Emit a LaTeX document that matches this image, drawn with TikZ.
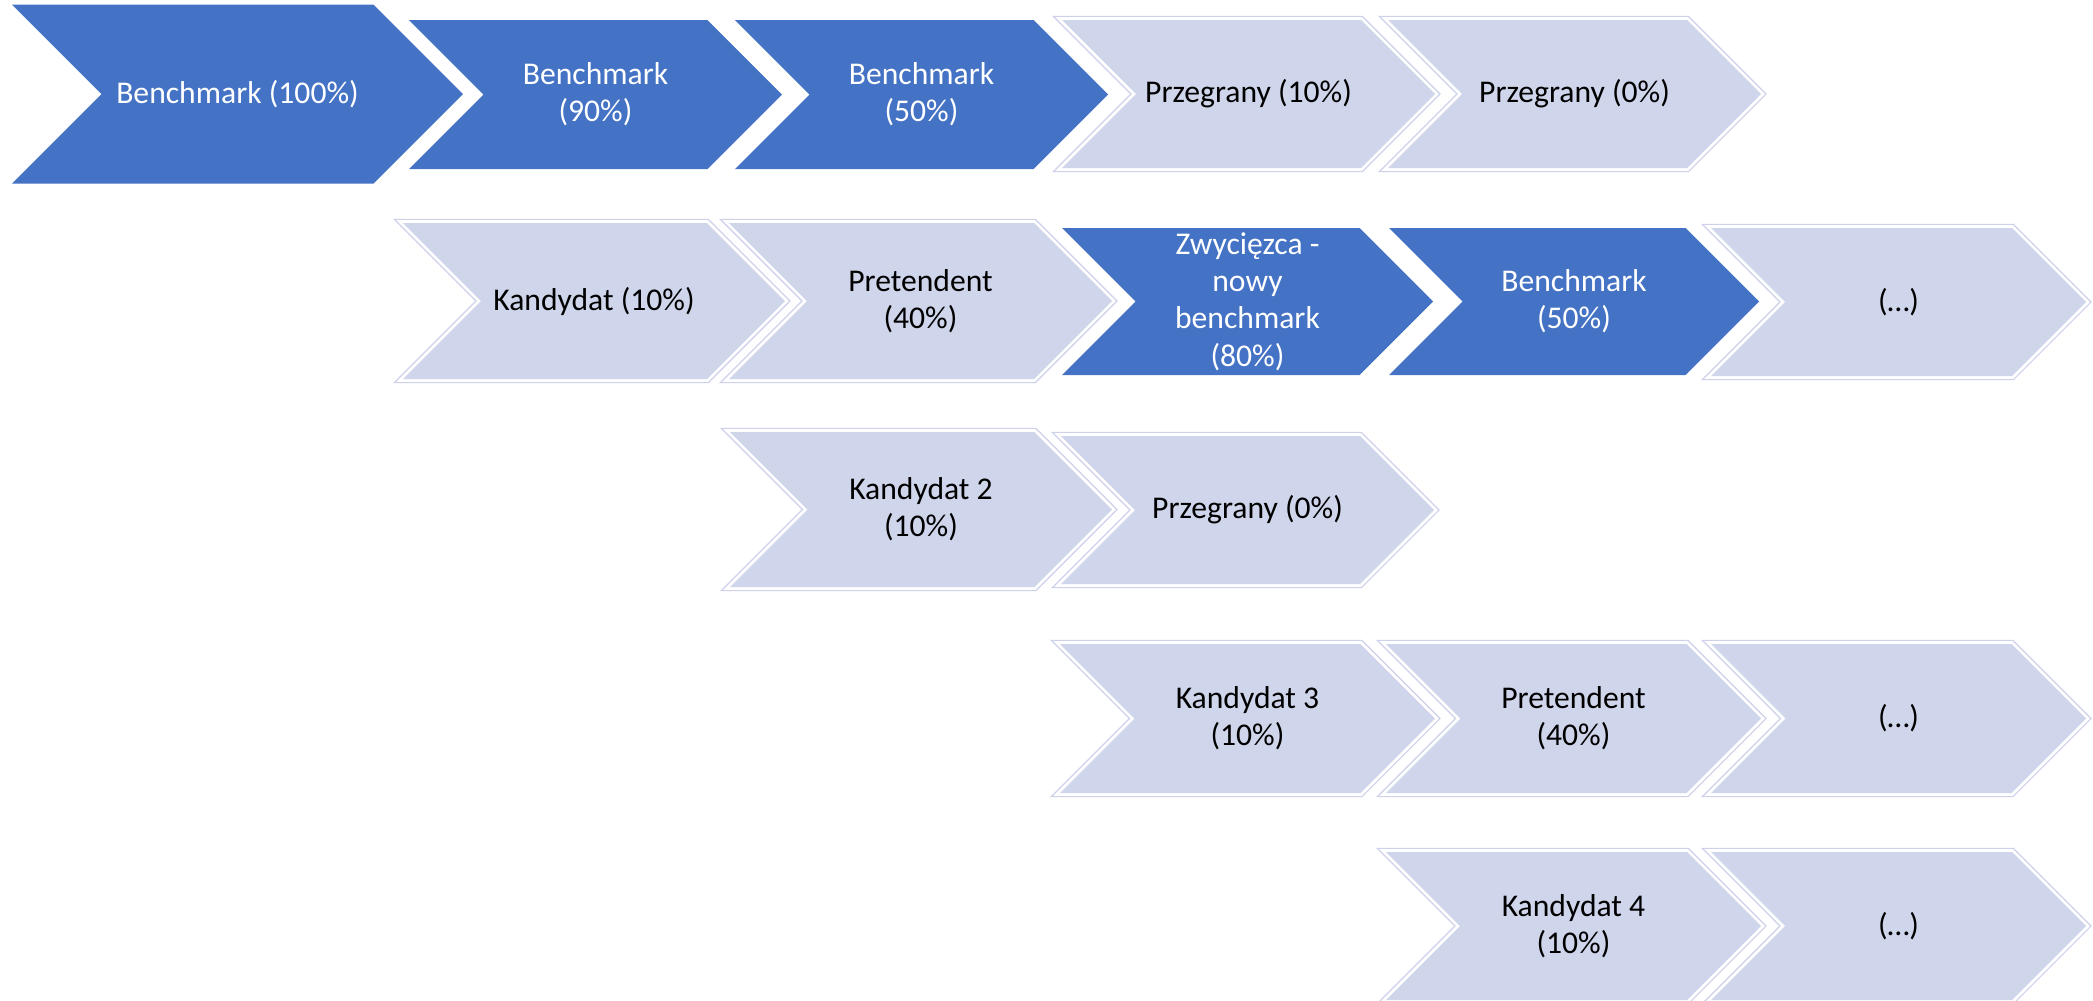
\documentclass[tikz,border=0pt]{standalone}
\usepackage{fontspec}
\setmainfont{Carlito}
\definecolor{bluec}{HTML}{4472C4}
\definecolor{lightc}{HTML}{CFD5EA}
\definecolor{palec}{HTML}{CDD2EA}
\tikzset{
  bluechev/.style={fill=bluec},
  lightchev/.style={fill=lightc, preaction={draw=palec, line width=0.4pt, double=white, double distance=1.6pt, fill=none}},
  bluetext/.style={text=white},
  lighttext/.style={text=black},
  lbl/.style={align=center, inner sep=0pt, font=\fontsize{9pt}{10.6pt}\selectfont}
}
% #1 name, #2 left x, #3 centre y, #4 half height, #5 width, #6 kind (blue/light), #7 text
\newcommand\mychev[7]{%
  \path[#6chev] ({#2},{#3-#4}) -- ({#2+#5-#4},{#3-#4}) -- ({#2+#5},{#3})
     -- ({#2+#5-#4},{#3+#4}) -- ({#2},{#3+#4}) -- ({#2+#4},{#3}) -- cycle;
  \node[lbl, #6text] (#1) at ({#2+#5/2},{#3}) {#7};
}
\begin{document}
\begin{tikzpicture}[x=0.1mm, y=-0.1mm]
\useasboundingbox (0,0) rectangle (2093,1000);
% row 1
\mychev{bA}{12}{94}{89.5}{451}{blue}{Benchmark (100\%)}
\mychev{bB}{409}{94.5}{74.5}{373}{blue}{Benchmark\\(90\%)}
\mychev{bC}{735}{94.5}{74.5}{373}{blue}{Benchmark\\(50\%)}
\mychev{pA}{1062}{94}{74}{373}{light}{Przegrany (10\%)}
\mychev{pB}{1388}{94}{74}{373}{light}{Przegrany (0\%)}
% row 2
\mychev{kA}{403}{301}{78}{382}{light}{Kandydat (10\%)}
\mychev{prA}{729}{301}{78}{383}{light}{Pretendent\\(40\%)}
\mychev{zw}{1062}{301.5}{73.5}{371}{blue}{Zwycięzca -\\nowy\\benchmark\\(80\%)}
\mychev{bD}{1389}{301.5}{73.5}{370}{blue}{Benchmark\\(50\%)}
\mychev{eA}{1711}{302}{74}{375}{light}{(…)}
% row 3
\mychev{kB}{730}{509.5}{77.5}{382}{light}{Kandydat 2\\(10\%)}
\mychev{pC}{1061}{510}{74}{373}{light}{Przegrany (0\%)}
% row 4
\mychev{kC}{1060}{718.5}{74.5}{375}{light}{Kandydat 3\\(10\%)}
\mychev{prB}{1386}{718.5}{74.5}{375}{light}{Pretendent\\(40\%)}
\mychev{eB}{1711}{718.5}{74.5}{375}{light}{(…)}
% row 5
\mychev{kD}{1386}{926}{74}{375}{light}{Kandydat 4\\(10\%)}
\mychev{eC}{1711}{926}{74}{375}{light}{(…)}
\end{tikzpicture}
\end{document}
